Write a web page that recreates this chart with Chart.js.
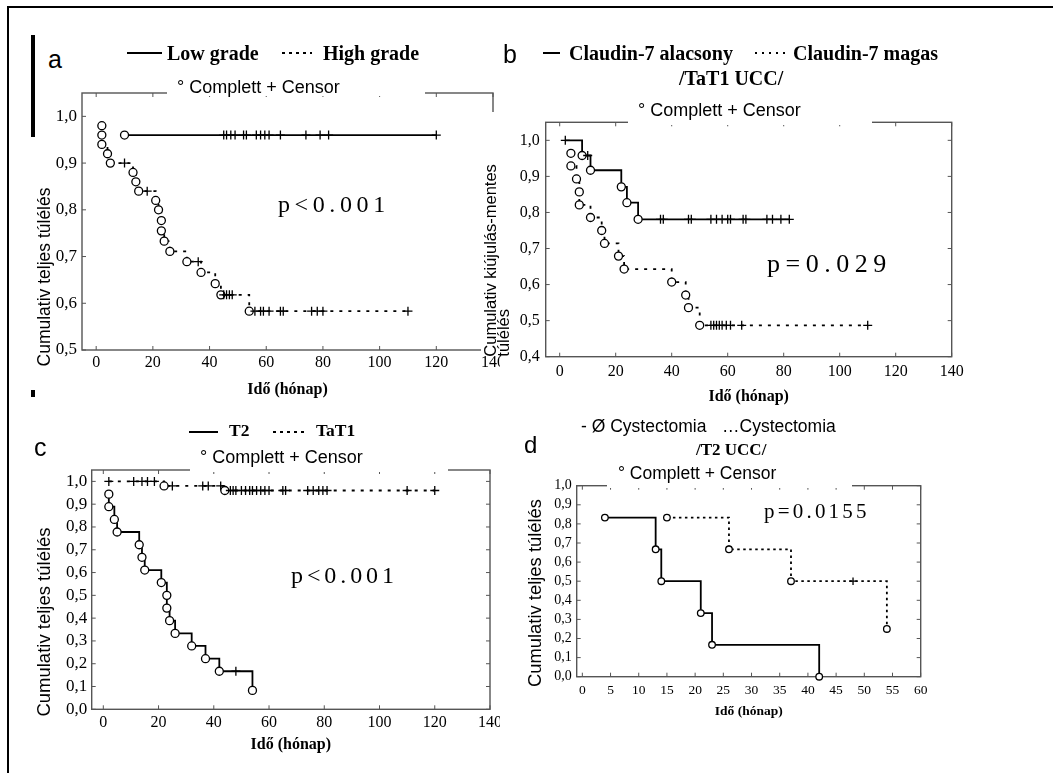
<!DOCTYPE html>
<html>
<head>
<meta charset="utf-8">
<script src="https://cdn.jsdelivr.net/npm/chart.js"></script>
<style>
body { margin: 0; background: #fff; }
#page { position: relative; width: 1053px; height: 773px; overflow: hidden; background: #fff; }
canvas { position: absolute; }
.t { position: absolute; white-space: nowrap; color: #000; }
.sans { font-family: "Liberation Sans", Arial, sans-serif; }
.serif { font-family: "Liberation Serif", "Times New Roman", serif; }
.b { font-weight: bold; }
.ln { position: absolute; height: 2px; background: #000; }
.dt { position: absolute; height: 2px; background: repeating-linear-gradient(90deg, #000 0 2.5px, transparent 2.5px 7px); }
.box { background: #fff; }
.blk { position: absolute; background: #000; }
</style>
</head>
<body>
<div id="page">
  <div class="blk" style="left:7px;top:6px;width:1046px;height:2px"></div>
  <div class="blk" style="left:7px;top:6px;width:2px;height:767px"></div>
  <div class="blk" style="left:31px;top:35px;width:4px;height:102px"></div>
  <div class="blk" style="left:31px;top:390px;width:4px;height:7px"></div>

  <canvas id="chartA" width="490" height="320" style="left:10px;top:85px"></canvas>
  <canvas id="chartB" width="520" height="300" style="left:480px;top:110px"></canvas>
  <canvas id="chartC" width="490" height="310" style="left:10px;top:460px"></canvas>
  <canvas id="chartD" width="500" height="255" style="left:500px;top:475px"></canvas>

  <!-- panel a -->
  <div class="t sans" style="left:48px;top:47px;font-size:25px;line-height:25px">a</div>
  <div class="ln" style="left:127px;top:52px;width:35px"></div>
  <div class="t serif b" style="left:167px;top:43px;font-size:20px;line-height:20px">Low grade</div>
  <div class="dt" style="left:282px;top:52px;width:30px"></div>
  <div class="t serif b" style="left:323px;top:43px;font-size:20px;line-height:20px">High grade</div>
  <div class="t sans box" style="left:167px;top:78px;width:248px;height:18px;padding-left:10px;font-size:18px;line-height:18px">° Complett + Censor</div>
  <div class="t serif" style="left:278px;top:192px;font-size:24px;line-height:24px;letter-spacing:4.6px">p&lt;0.001</div>

  <!-- panel b -->
  <div class="t sans" style="left:503px;top:42px;font-size:25px;line-height:25px">b</div>
  <div class="ln" style="left:543px;top:52px;width:17px"></div>
  <div class="t serif b" style="left:569px;top:43px;font-size:20px;line-height:20px">Claudin-7 alacsony</div>
  <div class="dt" style="left:755px;top:52px;width:30px"></div>
  <div class="t serif b" style="left:793px;top:43px;font-size:20px;line-height:20px">Claudin-7 magas</div>
  <div class="t serif b" style="left:679px;top:68px;font-size:20px;line-height:20px">/TaT1 UCC/</div>
  <div class="t sans box" style="left:628px;top:101px;width:234px;height:24px;padding-left:10px;font-size:18px;line-height:18px">° Complett + Censor</div>
  <div class="t serif" style="left:767px;top:251px;font-size:26px;line-height:26px;letter-spacing:5.5px">p=0.029</div>

  <!-- panel c -->
  <div class="t sans" style="left:34px;top:435px;font-size:25px;line-height:25px">c</div>
  <div class="ln" style="left:189px;top:431px;width:29px"></div>
  <div class="t serif b" style="left:229px;top:422px;font-size:17.5px;line-height:17.5px">T2</div>
  <div class="dt" style="left:273px;top:431px;width:32px"></div>
  <div class="t serif b" style="left:316px;top:422px;font-size:17.5px;line-height:17.5px">TaT1</div>
  <div class="t sans box" style="left:190px;top:448px;width:248px;height:24px;padding-left:10px;font-size:18px;line-height:18px">° Complett + Censor</div>
  <div class="t serif" style="left:291px;top:563px;font-size:24px;line-height:24px;letter-spacing:3.9px">p&lt;0.001</div>

  <!-- panel d -->
  <div class="t sans" style="left:524px;top:433px;font-size:24px;line-height:24px">d</div>
  <div class="t sans" style="left:581px;top:418px;font-size:17.5px;line-height:17.5px">- Ø Cystectomia</div>
  <div class="t sans" style="left:722px;top:418px;font-size:17.5px;line-height:17.5px">…Cystectomia</div>
  <div class="t serif b" style="left:696px;top:441px;font-size:17px;line-height:17px">/T2 UCC/</div>
  <div class="t sans box" style="left:607px;top:465px;width:234px;height:23px;padding-left:11px;font-size:17.5px;line-height:17.5px">° Complett + Censor</div>
  <div class="t serif" style="left:764px;top:501px;font-size:21px;line-height:21px;letter-spacing:3.2px">p=0.0155</div>
</div>

<script>
// ---- data (months, cumulative survival, 1 = censored) ----

// a: Low grade / High grade
var lowGradeTime = [10, 45, 46, 47.5, 49, 52, 53, 56.5, 58, 59.5, 61, 65, 74, 79, 82, 120];
var lowGradeSurv = [0.96, 0.96, 0.96, 0.96, 0.96, 0.96, 0.96, 0.96, 0.96, 0.96, 0.96, 0.96, 0.96, 0.96, 0.96, 0.96];
var lowGradeCens = [0, 1, 1, 1, 1, 1, 1, 1, 1, 1, 1, 1, 1, 1, 1, 1];

var highGradeTime = [2, 2, 2, 4, 5, 10, 13, 14, 15, 18, 21, 22, 23, 23, 24, 26, 32, 36, 37, 42, 44, 45, 46, 47, 48, 54, 56, 58, 59, 61, 65, 66, 76, 78, 80, 110];
var highGradeSurv = [0.98, 0.96, 0.94, 0.92, 0.90, 0.90, 0.88, 0.86, 0.84, 0.84, 0.82, 0.80, 0.777, 0.755, 0.733, 0.711, 0.689, 0.689, 0.666, 0.642, 0.618, 0.618, 0.618, 0.618, 0.618, 0.583, 0.583, 0.583, 0.583, 0.583, 0.583, 0.583, 0.583, 0.583, 0.583, 0.583];
var highGradeCens = [0, 0, 0, 0, 0, 1, 0, 0, 0, 1, 0, 0, 0, 0, 0, 0, 0, 1, 0, 0, 0, 1, 1, 1, 1, 0, 1, 1, 1, 1, 1, 1, 1, 1, 1, 1];

// b: Claudin-7 alacsony / magas (TaT1 UCC)
var cldLowTime = [2, 8, 10, 11, 22, 24, 28, 36, 37, 46, 47, 54, 56, 58, 60, 61, 65.5, 66.5, 74, 76, 79, 82];
var cldLowSurv = [1.0, 0.958, 0.958, 0.917, 0.871, 0.827, 0.781, 0.781, 0.781, 0.781, 0.781, 0.781, 0.781, 0.781, 0.781, 0.781, 0.781, 0.781, 0.781, 0.781, 0.781, 0.781];
var cldLowCens = [1, 0, 1, 0, 0, 0, 0, 1, 1, 1, 1, 1, 1, 1, 1, 1, 1, 1, 1, 1, 1, 1];

var cldHighTime = [4, 4, 6, 7, 7, 11, 15, 16, 21, 23, 40, 45, 46, 50, 54, 55, 56, 57, 58, 59.5, 61, 65, 110];
var cldHighSurv = [0.964, 0.929, 0.893, 0.857, 0.821, 0.786, 0.75, 0.714, 0.679, 0.643, 0.607, 0.571, 0.536, 0.487, 0.487, 0.487, 0.487, 0.487, 0.487, 0.487, 0.487, 0.487, 0.487];
var cldHighCens = [0, 0, 0, 0, 0, 0, 0, 0, 0, 0, 0, 0, 0, 0, 1, 1, 1, 1, 1, 1, 1, 1, 1];

// c: T2 / TaT1
var t2Time = [2, 2, 4, 5, 13, 14, 15, 21, 23, 23, 24, 26, 32, 37, 42, 48, 54];
var t2Surv = [0.944, 0.889, 0.833, 0.778, 0.722, 0.667, 0.611, 0.556, 0.5, 0.444, 0.389, 0.333, 0.278, 0.222, 0.167, 0.167, 0.083];
var t2Cens = [0, 0, 0, 0, 0, 0, 0, 0, 0, 0, 0, 0, 0, 0, 0, 1, 0];

var tat1Time = [2, 11, 14, 16, 18.5, 22, 25, 36, 38, 42.5, 44, 46, 47, 48, 50, 51.5, 53, 54, 55.5, 57, 58.5, 60, 65, 66, 74, 76, 78, 79.5, 81, 110, 120];
var tat1Surv = [1.0, 1.0, 1.0, 1.0, 1.0, 0.98, 0.98, 0.98, 0.98, 0.98, 0.96, 0.96, 0.96, 0.96, 0.96, 0.96, 0.96, 0.96, 0.96, 0.96, 0.96, 0.96, 0.96, 0.96, 0.96, 0.96, 0.96, 0.96, 0.96, 0.96, 0.96];
var tat1Cens = [1, 1, 1, 1, 1, 0, 1, 1, 1, 1, 0, 1, 1, 1, 1, 1, 1, 1, 1, 1, 1, 1, 1, 1, 1, 1, 1, 1, 1, 1, 1];

// d: Ø Cystectomia / Cystectomia (T2 UCC)
var noCystTime = [4, 13, 14, 21, 23, 42];
var noCystSurv = [0.833, 0.667, 0.5, 0.333, 0.167, 0.0];
var noCystCens = [0, 0, 0, 0, 0, 0];

var cystTime = [15, 26, 37, 48, 54];
var cystSurv = [0.833, 0.667, 0.5, 0.5, 0.25];
var cystCens = [0, 0, 0, 1, 0];

// tick labels
var monthTicks = [0, 20, 40, 60, 80, 100, 120, 140];
var monthTicksD = [0, 5, 10, 15, 20, 25, 30, 35, 40, 45, 50, 55, 60];
var survTicksA = [0.5, 0.6, 0.7, 0.8, 0.9, 1.0];
var survTicksB = [0.4, 0.5, 0.6, 0.7, 0.8, 0.9, 1.0];
var survTicksCD = [0.0, 0.1, 0.2, 0.3, 0.4, 0.5, 0.6, 0.7, 0.8, 0.9, 1.0];

var serif = '"Liberation Serif", "Times New Roman", serif';
var sans = '"Liberation Sans", Arial, sans-serif';

// frame + inward ticks on all four sides (Statistica style)
var statFrame = {
  id: 'statFrame',
  beforeDatasetsDraw: function (chart) {
    var ctx = chart.ctx, area = chart.chartArea, sx = chart.scales.x, sy = chart.scales.y;
    ctx.save();
    ctx.strokeStyle = '#555';
    ctx.lineWidth = 1.4;
    ctx.strokeRect(area.left, area.top, area.right - area.left, area.bottom - area.top);
    ctx.beginPath();
    sx.ticks.forEach(function (t) {
      var px = sx.getPixelForValue(t.value);
      ctx.moveTo(px, area.bottom); ctx.lineTo(px, area.bottom - 4);
      ctx.moveTo(px, area.top); ctx.lineTo(px, area.top + 4);
    });
    sy.ticks.forEach(function (t) {
      var py = sy.getPixelForValue(t.value);
      ctx.moveTo(area.left, py); ctx.lineTo(area.left + 4, py);
      ctx.moveTo(area.right, py); ctx.lineTo(area.right - 4, py);
    });
    ctx.lineWidth = 1;
    ctx.stroke();
    ctx.restore();
  }
};

// y axis title placed freely (it hangs below the plot area in the original)
var sideTitle = {
  id: 'sideTitle',
  afterDraw: function (chart, args, opts) {
    if (!opts.text) return;
    var ctx = chart.ctx;
    ctx.save();
    ctx.translate(opts.x, opts.y);
    ctx.rotate(-Math.PI / 2);
    ctx.fillStyle = '#000';
    ctx.font = opts.size + 'px ' + sans;
    ctx.textAlign = 'center';
    ctx.textBaseline = 'middle';
    ctx.fillText(opts.text, 0, 0);
    ctx.restore();
  }
};

// white strip behind panel b's y title (it overlaps panel a's frame)
var titleMask = {
  id: 'titleMask',
  beforeDraw: function (chart) {
    var ctx = chart.ctx;
    ctx.save();
    ctx.fillStyle = '#fff';
    ctx.fillRect(1, 2, 31, 240);
    ctx.restore();
  }
};

function kmSeries(times, surv, cens, dash, r) {
  return {
    data: times.map(function (t, i) { return { x: t, y: surv[i] }; }),
    stepped: true,
    borderColor: '#000',
    borderWidth: 1.8,
    borderDash: dash,
    fill: false,
    clip: false,
    pointStyle: function (c) { return cens[c.dataIndex] ? 'cross' : 'circle'; },
    pointRadius: function (c) { return cens[c.dataIndex] ? r + 0.5 : r; },
    pointBackgroundColor: '#fff',
    pointBorderColor: '#000',
    pointBorderWidth: 1.3
  };
}

function fixSize(size) {
  return function (scale) {
    if (scale.isHorizontal()) scale.height = size; else scale.width = size;
    scale.paddingLeft = 0; scale.paddingRight = 0;
    scale.paddingTop = 0; scale.paddingBottom = 0;
  };
}

function useTicks(list) {
  return function (scale) {
    scale.ticks = list.map(function (v) { return { value: v }; });
  };
}

function commaLabel(v) { return v.toFixed(1).replace('.', ','); }

function panel(id, datasets, o) {
  var scaleTitle = o.yTitle ? {
    display: true, text: o.yTitle, color: '#000', align: 'start',
    font: { family: sans, size: o.yTitleSize, lineHeight: o.yTitleLH },
    padding: { top: o.yTitlePad, bottom: 0 }
  } : { display: false };
  return new Chart(document.getElementById(id), {
    type: 'line',
    data: { datasets: datasets },
    options: {
      responsive: false,
      animation: false,
      events: [],
      layout: { padding: { left: 0, top: o.padTop, right: o.padRight, bottom: 0 } },
      plugins: {
        legend: { display: false },
        tooltip: { enabled: false },
        sideTitle: o.side || {}
      },
      scales: {
        x: {
          type: 'linear', min: o.xMin, max: o.xMax,
          afterBuildTicks: useTicks(o.xTicks),
          afterFit: fixSize(o.xHeight),
          grid: { display: false, drawTicks: false },
          border: { display: false },
          ticks: {
            color: '#000', autoSkip: false, maxRotation: 0, padding: o.xTickPad,
            font: { family: serif, size: o.xTickSize },
            callback: function (v) { return String(v); }
          },
          title: {
            display: true, text: 'Idő (hónap)', color: '#000',
            font: { family: serif, size: o.xTitleSize, weight: 'bold', lineHeight: 1.2 },
            padding: { top: 0, bottom: o.xTitlePad }
          }
        },
        y: {
          type: 'linear', min: o.yMin, max: o.yMax,
          afterBuildTicks: useTicks(o.yTicks),
          afterFit: fixSize(o.yWidth),
          grid: { display: false, drawTicks: false },
          border: { display: false },
          ticks: {
            color: '#000', autoSkip: false, padding: o.yTickPad,
            font: { family: serif, size: o.yTickSize },
            callback: commaLabel
          },
          title: scaleTitle
        }
      }
    },
    plugins: [statFrame, sideTitle].concat(o.extra || [])
  });
}

panel('chartA', [
  kmSeries(lowGradeTime, lowGradeSurv, lowGradeCens, [], 4),
  kmSeries(highGradeTime, highGradeSurv, highGradeCens, [3, 6], 4)
], {
  padTop: 8, padRight: 7, xHeight: 55, yWidth: 72,
  xMin: -5, xMax: 140, xTicks: monthTicks, xTickSize: 16, xTickPad: 3.5, xTitleSize: 16, xTitlePad: 5.4,
  yMin: 0.5, yMax: 1.05, yTicks: survTicksA, yTickSize: 17, yTickPad: 5,
  side: { text: 'Cumulativ teljes túlélés', x: 35, y: 192, size: 17.5 }
});

panel('chartB', [
  kmSeries(cldLowTime, cldLowSurv, cldLowCens, [], 4),
  kmSeries(cldHighTime, cldHighSurv, cldHighCens, [3, 6], 4)
], {
  padTop: 12.3, padRight: 48.3, xHeight: 53.3, yWidth: 65.7,
  xMin: -5, xMax: 140, xTicks: monthTicks, xTickSize: 16, xTickPad: 5.7, xTitleSize: 16, xTitlePad: 3.7,
  yMin: 0.4, yMax: 1.05, yTicks: survTicksB, yTickSize: 16, yTickPad: 6,
  yTitle: ['Cumulativ kiújulás-mentes', 'túlélés'], yTitleSize: 16.5, yTitleLH: 0.8, yTitlePad: 5.1,
  extra: [titleMask]
});

panel('chartC', [
  kmSeries(t2Time, t2Surv, t2Cens, [], 4),
  kmSeries(tat1Time, tat1Surv, tat1Cens, [3, 6], 4)
], {
  padTop: 10, padRight: 10, xHeight: 60.7, yWidth: 81.7,
  xMin: -4.2, xMax: 140, xTicks: monthTicks, xTickSize: 16, xTickPad: 3.8, xTitleSize: 16, xTitlePad: 15.4,
  yMin: 0, yMax: 1.05, yTicks: survTicksCD, yTickSize: 17, yTickPad: 4.4,
  side: { text: 'Cumulativ teljes túlélés', x: 35, y: 162, size: 18.5 }
});

panel('chartD', [
  kmSeries(noCystTime, noCystSurv, noCystCens, [], 3.3),
  kmSeries(cystTime, cystSurv, cystCens, [2.5, 3.5], 3.3)
], {
  padTop: 10.7, padRight: 79.3, xHeight: 53.3, yWidth: 76.7,
  xMin: -1, xMax: 60, xTicks: monthTicksD, xTickSize: 13.5, xTickPad: 5.2, xTitleSize: 13.5, xTitlePad: 10.2,
  yMin: 0, yMax: 1.0, yTicks: survTicksCD, yTickSize: 14, yTickPad: 5,
  side: { text: 'Cumulativ teljes túlélés', x: 36, y: 118, size: 18.4 }
});
</script>
</body>
</html>
